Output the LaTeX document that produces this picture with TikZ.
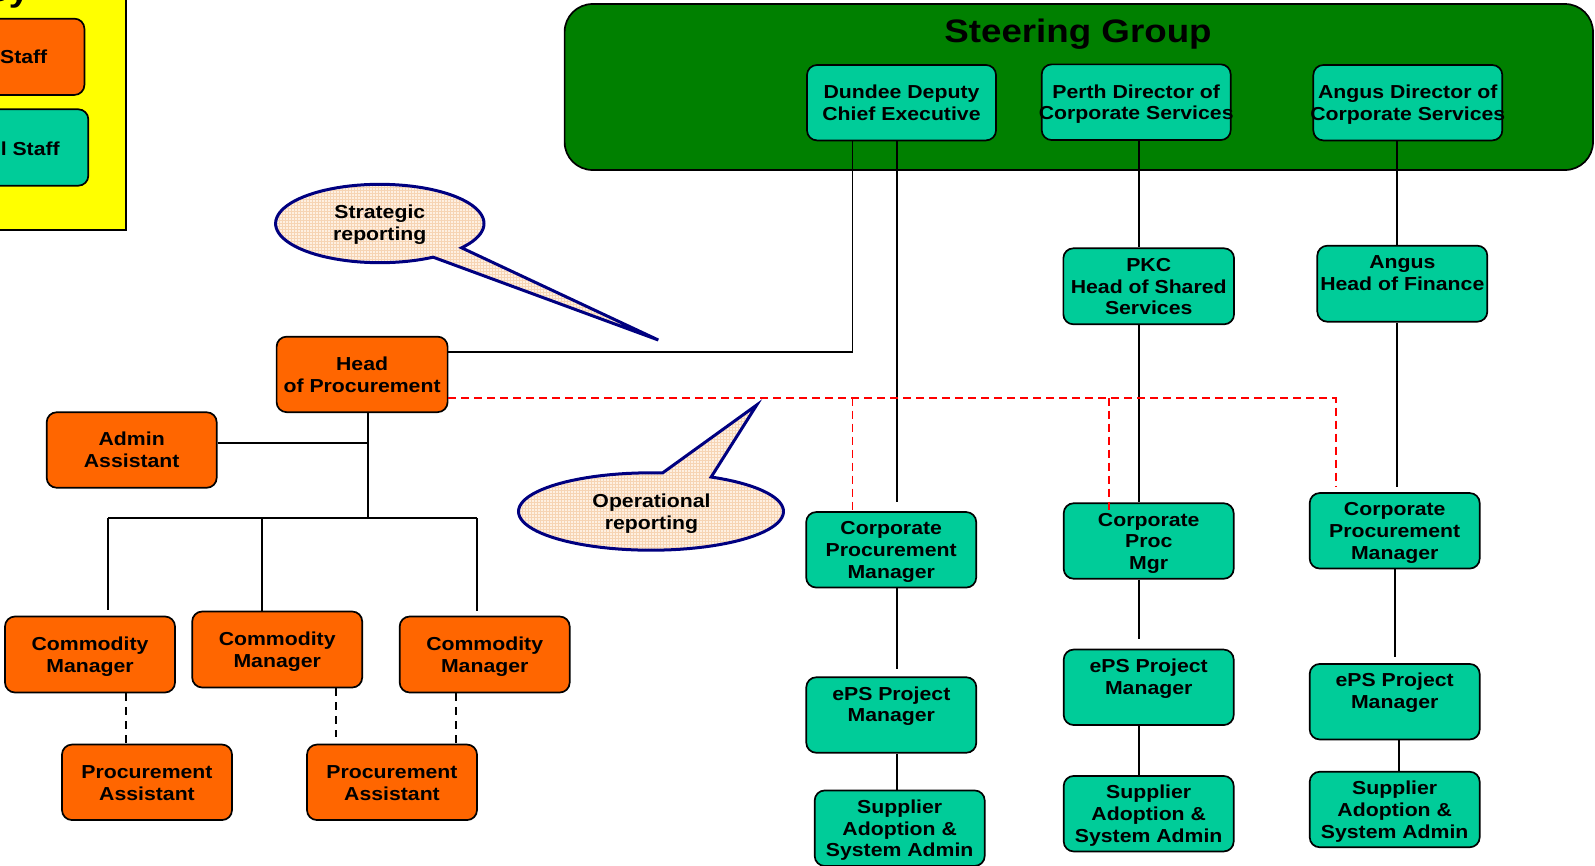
\documentclass[tikz,border=0pt]{standalone}
\usepackage{fontspec}
\setmainfont{Liberation Sans}[FakeStretch=1.13]
\usetikzlibrary{calc,patterns}

\definecolor{procorange}{RGB}{255,102,0}
\definecolor{staffteal}{RGB}{0,204,153}
\definecolor{steergreen}{RGB}{0,128,0}
\definecolor{legendyellow}{RGB}{255,255,0}
\definecolor{navyline}{RGB}{0,0,128}
\definecolor{calloutfill}{RGB}{254,240,226}
\definecolor{calloutgrid}{RGB}{246,212,180}
\definecolor{oplink}{RGB}{255,0,0}

\newcommand{\bxfont}{\bfseries\fontsize{18.8}{21.7}\selectfont}
\newcommand{\ttlfont}{\bfseries\fontsize{32.5}{38}\selectfont}
% centred block of lines that may run past the box edges, set a little low
\newcommand{\boxlines}[1]{\raisebox{-2.5pt}[\height][\depth]{\makebox[0pt]{\begin{tabular}{@{}c@{}}#1\end{tabular}}}}

\tikzset{
  orgbox/.style={draw=black, line width=1.7pt, rounded corners=10pt,
    minimum width=170pt, minimum height=75.5pt, inner sep=0pt, font=\bxfont},
  orangebox/.style={orgbox, fill=procorange},
  tealbox/.style={orgbox, fill=staffteal},
  conn/.style={draw=black, line width=1.8pt},
  dashconn/.style={draw=black, line width=1.8pt, dash pattern=on 8pt off 6pt},
  opconn/.style={draw=oplink, line width=1.8pt, dash pattern=on 8pt off 5pt},
  callout/.style={preaction={fill=calloutfill},
    preaction={pattern=grid, pattern color=calloutgrid},
    draw=navyline, line width=3pt, line join=miter},
  calltext/.style={font=\bxfont, align=center, inner sep=0pt},
}

\begin{document}
\begin{tikzpicture}[x=1pt, y=-1pt]
\useasboundingbox (0,0) rectangle (1595,865);

% ---- legend ----
\node[draw=black, line width=2pt, fill=legendyellow, minimum width=135.5pt,
  minimum height=240pt, inner sep=0pt] (legend) at (57.75,110) {};
\node[font=\ttlfont, anchor=base east, inner sep=0pt] (keytitle) at (29.5,1) {Key};
\node[orangebox, minimum width=104.4pt, minimum height=76.3pt] (legorange) at (32.2,56.8) {};
\node[font=\bxfont, anchor=east, inner sep=0pt] (legorangetext) at (47.5,57) {Staff};
\node[tealbox, minimum width=108.3pt, minimum height=76.4pt] (legteal) at (34.15,147.5) {};
\node[font=\bxfont, anchor=east, inner sep=0pt] (legtealtext) at (60,148.5) {l Staff};

% ---- steering group ----
\node[draw=black, line width=1.7pt, fill=steergreen, rounded corners=28pt,
  minimum width=1028.4pt, minimum height=166pt, inner sep=0pt] (steer) at (1078.8,87) {};
\node[font=\ttlfont, anchor=base, inner sep=0pt] (title) at (1078,42) {Steering Group};
\node[tealbox, minimum width=189pt, minimum height=75.4pt] (ddce) at (901.5,102.7)
  {\boxlines{Dundee Deputy\\Chief Executive}};
\node[tealbox, minimum width=189pt, minimum height=75.7pt] (perth) at (1136.2,102.2)
  {\boxlines{Perth Director of\\Corporate Services}};
\node[tealbox, minimum width=189pt, minimum height=75.4pt] (angdir) at (1407.8,102.7)
  {\boxlines{Angus Director of\\Corporate Services}};

% ---- council structures ----
\node[tealbox, minimum width=170.7pt, minimum height=76pt] (pkc) at (1148.7,286.3)
  {\boxlines{PKC\\Head of Shared\\Services}};
\node[tealbox, minimum height=76pt] (anghof) at (1402.3,283.7)
  {\boxlines{Angus\\Head of Finance\\\mbox{}}};

\node[tealbox] (cpm1) at (891.2,549.8) {\boxlines{Corporate\\Procurement\\Manager}};
\node[tealbox] (eps1) at (891.3,715) {\boxlines{ePS Project\\Manager\\\mbox{}}};
\node[tealbox] (sa1) at (899.7,828.2) {\boxlines{Supplier\\Adoption \&\\System Admin}};

\node[tealbox] (cpm2) at (1148.7,541) {\boxlines{Corporate\\Proc\\Mgr}};
\node[tealbox] (eps2) at (1148.7,687.3) {\boxlines{ePS Project\\Manager\\\mbox{}}};
\node[tealbox] (sa2) at (1148.7,813.7) {\boxlines{Supplier\\Adoption \&\\System Admin}};

\node[tealbox] (cpm3) at (1394.7,530.8) {\boxlines{Corporate\\Procurement\\Manager}};
\node[tealbox] (eps3) at (1394.7,701.7) {\boxlines{ePS Project\\Manager\\\mbox{}}};
\node[tealbox] (sa3) at (1394.7,809.5) {\boxlines{Supplier\\Adoption \&\\System Admin}};

% ---- procurement team ----
\node[orangebox, minimum width=171pt] (hop) at (362.1,374.4) {\boxlines{Head\\of Procurement}};
\node[orangebox] (admin) at (131.7,450) {\boxlines{Admin\\Assistant}};
\node[orangebox, minimum height=76pt] (cm1) at (90,654.5) {\boxlines{Commodity\\Manager}};
\node[orangebox, minimum height=76pt] (cm2) at (277.2,649.5) {\boxlines{Commodity\\Manager}};
\node[orangebox, minimum height=76pt] (cm3) at (484.7,654.5) {\boxlines{Commodity\\Manager}};
\node[orangebox] (pa1) at (147,782.3) {\boxlines{Procurement\\Assistant}};
\node[orangebox] (pa2) at (392,782.3) {\boxlines{Procurement\\Assistant}};

% ---- reporting lines ----
\draw[conn] (852.4,0 |- ddce.south) |- (hop.east |- 0,351.7);
\draw[conn] (897.2,0 |- ddce.south) -- ($(897.2,0 |- cpm1.north)+(0,-9.5)$);
\draw[conn] (897.2,0 |- cpm1.south) -- ($(897.2,0 |- eps1.north)+(0,-7)$);
\draw[conn] (897.2,0 |- eps1.south) -- (897.2,0 |- sa1.north);

\draw[conn] (1139.3,0 |- perth.south) -- (1139.3,0 |- pkc.north);
\draw[conn] (1139.3,0 |- pkc.south) -- (1139.3,0 |- cpm2.north);
\draw[conn] (1139.3,0 |- cpm2.south) -- ($(1139.3,0 |- eps2.north)+(0,-10)$);
\draw[conn] (1139.3,0 |- eps2.south) -- (1139.3,0 |- sa2.north);

\draw[conn] (1396.7,0 |- angdir.south) -- (1396.7,0 |- anghof.north);
\draw[conn] (1396.7,0 |- anghof.south) -- ($(1396.7,0 |- cpm3.north)+(0,-5)$);
\draw[conn] (1394.7,0 |- cpm3.south) -- ($(1394.7,0 |- eps3.north)+(0,-6)$);
\draw[conn] (1399,0 |- eps3.south) -- (1399,0 |- sa3.north);

% team tree
\coordinate (hub) at (368.3,442.7);
\coordinate (bus) at (368.3,518.3);
\coordinate (busL) at (108.3,518.3);
\coordinate (busM) at (261.7,518.3);
\coordinate (busR) at (476.7,518.3);
\draw[conn] (admin.east |- hub) -- (hub);
\draw[conn] (hub |- hop.south) -- (bus);
\draw[conn] (busL) -- (busR);
\draw[conn] (busL) -- ($(busL |- cm1.north)+(0,-6)$);
\draw[conn] (busM) -- (busM |- cm2.north);
\draw[conn] (busR) -- ($(busR |- cm3.north)+(0,-5)$);

\draw[dashconn] (126,0 |- cm1.south) -- (126,0 |- pa1.north);
\draw[dashconn] (335.7,0 |- cm2.south) -- ($(335.7,0 |- pa2.north)+(0,-7)$);
\draw[dashconn] (455.7,0 |- cm3.south) -- (455.7,0 |- pa2.north);

% operational (dashed red) links
\coordinate (opR) at (1335.6,397.7);
\draw[opconn] (hop.east |- opR) -- (opR) -- ($(opR |- cpm3.north)+(0,-5)$);
\draw[opconn] (852.4,397.7) -- ($(852.4,0 |- cpm1.north)+(0,3)$);
\draw[opconn] (1108.8,397.7) -- ($(1108.8,0 |- cpm2.north)+(0,10)$);

% ---- callouts ----
\path[callout] plot[domain=59.2:398.3, samples=90, variable=\t]
  ({379.8+104.2*cos(\t)}, {223.5+39.2*sin(\t)}) -- (658.3,340) -- cycle;
\node[calltext] (strat) at (379.8,225) {Strategic\\reporting};

\path[callout] plot[domain=-63:275, samples=90, variable=\t]
  ({651+132.5*cos(\t)}, {511.5+38.7*sin(\t)}) -- (756.7,405) -- cycle;
\node[calltext] (oper) at (651.5,513.5) {Operational\\reporting};

\end{tikzpicture}
\end{document}
